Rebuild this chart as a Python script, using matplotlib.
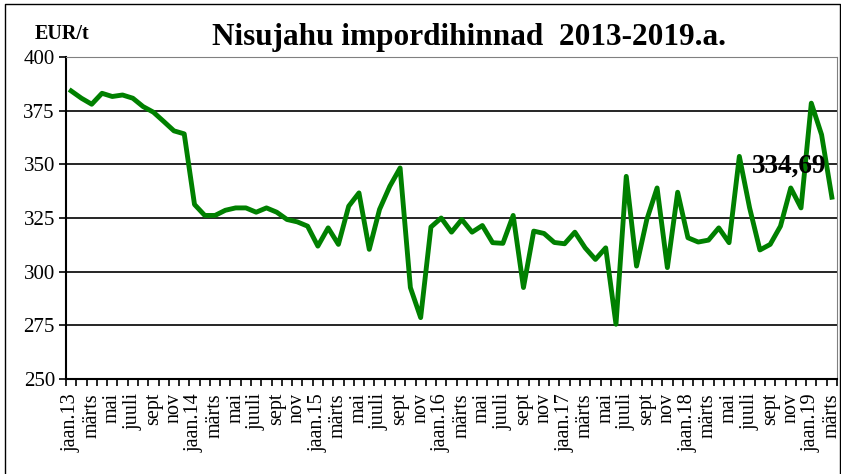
import numpy as np
import matplotlib.pyplot as plt
from matplotlib.lines import Line2D

# kuud (indeksid 0..74 = jaan.13 .. märts.19)
month_names = ['jaan', 'veebr', 'märts', 'apr', 'mai', 'juuni',
               'juuli', 'aug', 'sept', 'okt', 'nov', 'dets']
start_year = 13

prices = [384.2, 380.8, 378.0, 383.1, 381.6, 382.3, 380.8, 376.9, 374.3, 370.0,
          365.6, 364.2, 331.3, 326.2, 326.2, 328.6, 329.7, 329.7, 327.7, 329.7,
          327.7, 324.3, 323.2, 321.2, 311.9, 320.4, 312.7, 330.5, 336.7, 310.4,
          329.0, 339.8, 348.3, 292.6, 278.6, 320.8, 325.0, 318.4, 324.3, 318.4,
          321.5, 313.5, 313.2, 326.2, 292.6, 318.9, 317.8, 313.6, 313.0, 318.4,
          311.1, 305.7, 311.1, 275.5, 344.4, 302.6, 324.3, 339.0, 301.9, 337.0,
          315.8, 313.8, 314.7, 320.4, 313.5, 353.7, 329.7, 310.1, 312.7, 321.2,
          339.0, 329.7, 378.5, 363.8, 334.69]

y_ticks = [250, 275, 300, 325, 350, 375, 400]


def month_label(i):
    m = i % 12
    if m == 0:
        return 'jaan.%d' % (start_year + i // 12)
    return month_names[m]


plt.rcParams['font.family'] = ['Liberation Serif', 'DejaVu Serif']

fig = plt.figure(figsize=(8.41, 4.74), dpi=100)
ax = fig.add_axes([66 / 841, 1 - 379 / 474, (837 - 66) / 841, (379 - 57) / 474])

n = len(prices)
x = np.arange(n)
ax.plot(x, prices, color='#008000', lw=3.5, solid_joinstyle='round', zorder=3)

ax.set_xlim(-0.5, n - 0.5)
ax.set_ylim(250, 400)

ax.set_yticks(y_ticks)
ax.tick_params(axis='y', length=5, width=1.2, labelsize=15, pad=3)
for y in y_ticks[1:-1]:
    ax.axhline(y, color='black', lw=1.2, zorder=1)

major = list(range(0, n, 2))
ax.set_xticks(major)
ax.set_xticklabels([month_label(i) for i in major], rotation=90)
ax.set_xticks(np.arange(-0.5, n, 1), minor=True)
ax.tick_params(axis='x', which='major', length=0, labelsize=14.5, pad=10)
ax.tick_params(axis='x', which='minor', length=5, width=1.2)

ax.spines['left'].set_linewidth(1.5)
ax.spines['bottom'].set_linewidth(1.5)
ax.spines['top'].set_color('#808080')
ax.spines['right'].set_color('#808080')

last = prices[-1]
ax.annotate(('%.2f' % last).replace('.', ','), xy=(n - 1, last),
            xytext=(-31, 22), textcoords='offset points',
            ha='center', va='center', fontsize=19.5, fontweight='bold', zorder=4)

fig.text(469 / 841, 1 - 38 / 474, 'Nisujahu impordihinnad  2013-2019.a.',
         ha='center', va='center', fontsize=22.5, fontweight='bold')
fig.text(62 / 841, 1 - 34 / 474, 'EUR/t', ha='center', va='center',
         fontsize=14.5, fontweight='bold')

# raam ümber joonise
fx = [4.5 / 841, 4.5 / 841, 839.5 / 841, 839.5 / 841]
fy = [0, 1 - 3.5 / 474, 1 - 3.5 / 474, 0]
fig.add_artist(Line2D(fx, fy, transform=fig.transFigure, color='black', lw=1))

fig.savefig('out.png', dpi=100)
